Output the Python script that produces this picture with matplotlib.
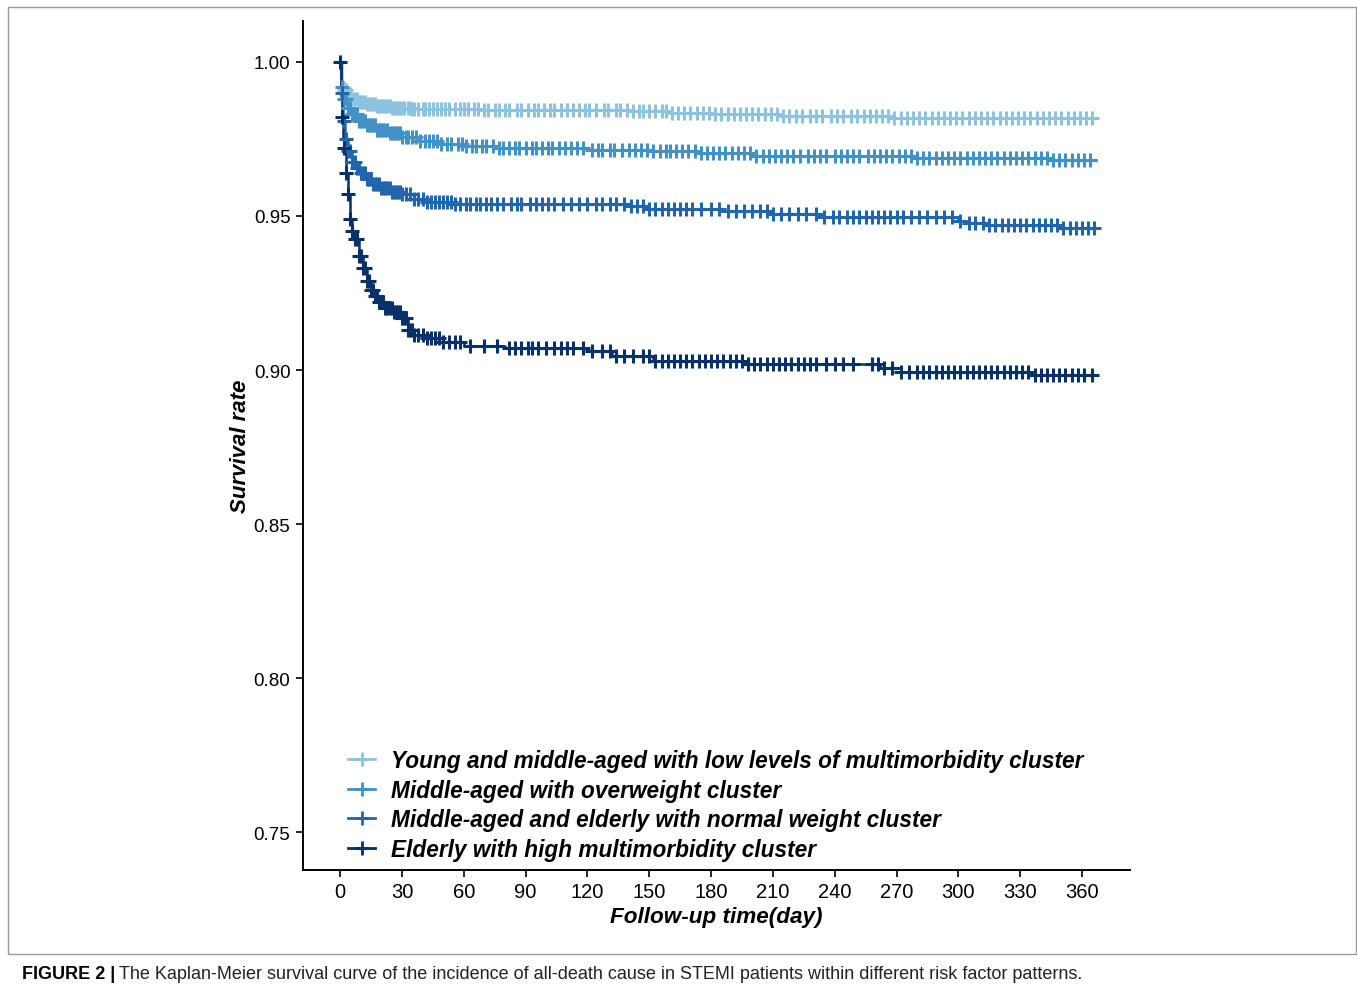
import numpy as np
import matplotlib.pyplot as plt
from matplotlib.patches import Rectangle
from matplotlib.lines import Line2D

# ---- data ----
labels = ['Young and middle-aged with low levels of multimorbidity cluster',
          'Middle-aged with overweight cluster',
          'Middle-aged and elderly with normal weight cluster',
          'Elderly with high multimorbidity cluster']
colors = ['#8DC3E0', '#4292C6', '#2166AC', '#08306B']
x_ticks = [0, 30, 60, 90, 120, 150, 180, 210, 240, 270, 300, 330, 360]
y_ticks = [0.75, 0.80, 0.85, 0.90, 0.95, 1.00]

t1 = [0, 1, 2, 4, 6, 9, 13, 18, 25, 35, 50, 70, 140, 160, 180, 215, 268, 367]
s1 = [1.0, 0.9935, 0.991, 0.9895, 0.988, 0.987, 0.9862, 0.9856, 0.9851, 0.9848,
      0.9846, 0.9844, 0.9841, 0.9835, 0.9831, 0.9825, 0.9817, 0.9817]
c1 = [2, 3, 4, 5, 6, 7, 8, 9, 10, 11, 12, 13, 14, 15, 16, 17, 18, 19, 20, 21, 22, 23,
      24, 25, 26, 27, 28, 29, 30, 31, 33, 34, 35, 36, 38, 40, 41, 43, 45, 47, 49, 51,
      53, 56, 58, 60, 62, 65, 67, 70, 72, 75, 77, 80, 82, 86, 88, 91, 94, 96, 99, 102,
      104, 107, 110, 113, 116, 119, 121, 124, 128, 130, 134, 136, 139, 142, 145, 147,
      150, 153, 156, 158, 161, 164, 167, 170, 173, 176, 179, 182, 185, 188, 191, 194,
      197, 200, 203, 206, 209, 212, 215, 218, 221, 224, 228, 231, 234, 238, 241, 244,
      248, 251, 254, 257, 260, 263, 266, 269, 272, 275, 278, 281, 284, 287, 290, 293,
      296, 299, 302, 305, 308, 311, 314, 317, 320, 323, 326, 329, 332, 335, 338, 341,
      344, 347, 350, 353, 356, 359, 362, 365]

t2 = [0, 0.5, 2, 4, 6, 9, 13, 18, 24, 30, 38, 48, 60, 75, 95, 120, 150, 175, 200,
      280, 345, 367]
s2 = [1.0, 0.992, 0.988, 0.985, 0.983, 0.981, 0.9795, 0.978, 0.9768, 0.9758, 0.9745,
      0.9735, 0.9728, 0.9722, 0.972, 0.9715, 0.971, 0.9704, 0.9694, 0.9688, 0.9682,
      0.9682]
c2 = [1, 2, 3, 4, 5, 6, 7, 8, 9, 10, 11, 12, 13, 14, 15, 16, 17, 18, 19, 20, 21, 22,
      23, 24, 25, 26, 27, 28, 29, 30, 32, 33, 35, 37, 39, 41, 43, 45, 47, 49, 52, 54,
      57, 59, 61, 64, 66, 69, 71, 74, 77, 79, 82, 85, 87, 90, 93, 95, 98, 101, 103,
      106, 109, 112, 115, 118, 122, 125, 127, 131, 133, 137, 140, 143, 146, 149, 152,
      155, 158, 160, 163, 166, 169, 172, 175, 178, 181, 184, 187, 190, 193, 196, 199,
      202, 205, 208, 211, 214, 217, 220, 223, 227, 230, 233, 236, 240, 243, 246, 249,
      252, 256, 259, 262, 265, 268, 271, 274, 277, 280, 283, 286, 289, 292, 295, 298,
      301, 304, 307, 310, 313, 316, 319, 322, 325, 328, 331, 334, 337, 340, 343, 346,
      349, 352, 355, 358, 361, 364]

t3 = [0, 0.5, 1.5, 2.5, 4, 6, 8, 10, 13, 16, 20, 25, 30, 36, 42, 55, 100, 140, 150,
      185, 210, 235, 300, 305, 315, 350, 367]
s3 = [1.0, 0.99, 0.981, 0.975, 0.971, 0.9675, 0.9655, 0.964, 0.962, 0.9605, 0.959,
      0.9578, 0.957, 0.9555, 0.9545, 0.954, 0.9538, 0.9532, 0.9523, 0.9515, 0.9505,
      0.9497, 0.9485, 0.9478, 0.9472, 0.9462, 0.9462]
c3 = [1, 2, 3, 4, 5, 6, 7, 8, 9, 10, 11, 12, 13, 14, 15, 16, 17, 18, 19, 20, 21, 22,
      23, 24, 25, 26, 27, 28, 29, 30, 32, 34, 36, 38, 40, 42, 44, 46, 48, 50, 52, 54,
      56, 58, 61, 63, 66, 68, 71, 73, 76, 79, 83, 86, 88, 92, 95, 98, 101, 104, 108,
      112, 116, 120, 124, 127, 131, 134, 138, 141, 144, 147, 150, 153, 156, 159, 162,
      165, 168, 171, 175, 180, 184, 188, 192, 196, 200, 204, 207, 210, 214, 218, 222,
      226, 231, 235, 239, 242, 246, 249, 252, 255, 258, 261, 264, 267, 270, 273, 277,
      281, 285, 289, 293, 297, 301, 305, 308, 312, 315, 318, 321, 324, 327, 330, 333,
      336, 339, 342, 345, 348, 351, 354, 357, 360, 363, 366]

t4 = [0, 0.3, 1, 1.5, 2, 3, 4, 5, 6, 7, 9, 11, 13, 15, 17, 19, 22, 26, 30, 33, 36,
      42, 50, 60, 80, 120, 132, 152, 197, 262, 272, 336, 367]
s4 = [1.0, 0.989, 0.982, 0.975, 0.972, 0.964, 0.957, 0.949, 0.945, 0.9425, 0.937,
      0.933, 0.929, 0.926, 0.924, 0.922, 0.920, 0.9188, 0.9168, 0.913, 0.9115, 0.9105,
      0.909, 0.9078, 0.9072, 0.9062, 0.9045, 0.903, 0.902, 0.9006, 0.8994, 0.8985,
      0.8985]
c4 = [0, 1, 2, 3, 4, 5, 6, 7, 8, 9, 10, 11, 12, 13, 14, 15, 16, 17, 18, 19, 20, 21,
      22, 23, 24, 25, 26, 27, 28, 29, 30, 31, 32, 33, 34, 35, 36, 38, 40, 42, 44, 46,
      48, 50, 53, 56, 58, 63, 70, 76, 82, 85, 88, 91, 93, 96, 100, 104, 107, 110, 113,
      118, 122, 127, 131, 134, 138, 142, 147, 150, 153, 156, 159, 162, 165, 168, 171,
      174, 177, 180, 183, 186, 189, 192, 195, 198, 201, 204, 207, 210, 213, 216, 219,
      222, 225, 228, 231, 236, 240, 244, 249, 258, 261, 264, 268, 272, 276, 280, 283,
      286, 289, 292, 295, 298, 301, 304, 307, 310, 313, 316, 319, 322, 325, 328, 331,
      334, 337, 340, 343, 346, 349, 352, 355, 358, 361, 365]

times = [t1, t2, t3, t4]
surv = [s1, s2, s3, s4]
censor = [c1, c2, c3, c4]

plt.rcParams['font.family'] = ['Liberation Sans', 'DejaVu Sans']

fig = plt.figure(figsize=(13.57, 9.95), dpi=100)
ax = fig.add_axes([303 / 1357, 1 - 871 / 995, 827 / 1357, 849 / 995])

for t, s, c, col in zip(times, surv, censor, colors):
    t = np.array(t, dtype=float)
    s = np.array(s)
    ax.step(t, s, where='post', color=col, lw=1.8, zorder=2)
    c = np.array(c, dtype=float)
    idx = np.searchsorted(t, c, side='right') - 1
    ax.plot(c, s[idx], ls='none', marker='+', ms=10, mew=2.2, color=col, zorder=3)

ax.set_xlim(-18, 383.3)
ax.set_ylim(0.7377, 1.0133)
ax.set_xticks(x_ticks)
ax.set_yticks(y_ticks)
ax.set_yticklabels(['%.2f' % v for v in y_ticks], fontsize=13.5)
ax.set_xticklabels([str(v) for v in x_ticks], fontsize=14.5)
ax.tick_params(length=5, width=1.2, colors='black', pad=4)
for side in ['top', 'right']:
    ax.spines[side].set_visible(False)
for side in ['left', 'bottom']:
    ax.spines[side].set_linewidth(1.4)

ax.set_xlabel('Follow-up time(day)', fontsize=16.2, fontweight='bold',
              style='italic', labelpad=3)
ax.set_ylabel('Survival rate', fontsize=16, fontweight='bold', style='italic',
              labelpad=2)

handles = [Line2D([], [], color=col, lw=2, marker='+', ms=10, mew=2)
           for col in colors]
leg = ax.legend(handles, labels, loc='lower left', bbox_to_anchor=(0.03, -0.013),
                frameon=False, handlelength=1.2, handletextpad=0.7,
                labelspacing=0.29, prop={'size': 16.3, 'weight': 'bold',
                                         'style': 'italic'})

# outer frame and caption
fig.patches.append(Rectangle((8 / 1357, 1 - 955 / 995), 1348 / 1357, 947 / 995,
                             transform=fig.transFigure, fill=False,
                             edgecolor='#9a9a9a', lw=1.0))
cap1 = fig.text(22 / 1357, 1 - 975 / 995, 'FIGURE 2 |', fontsize=13,
                fontweight='bold', va='center', ha='left')
fig.canvas.draw()
bb = cap1.get_window_extent()
fig.text(bb.x1 / fig.bbox.width + 4 / 1357, 1 - 975 / 995,
         'The Kaplan-Meier survival curve of the incidence of all-death cause in '
         'STEMI patients within different risk factor patterns.',
         fontsize=13, va='center', ha='left', color='#222222')

fig.savefig('out.png', dpi=100)
